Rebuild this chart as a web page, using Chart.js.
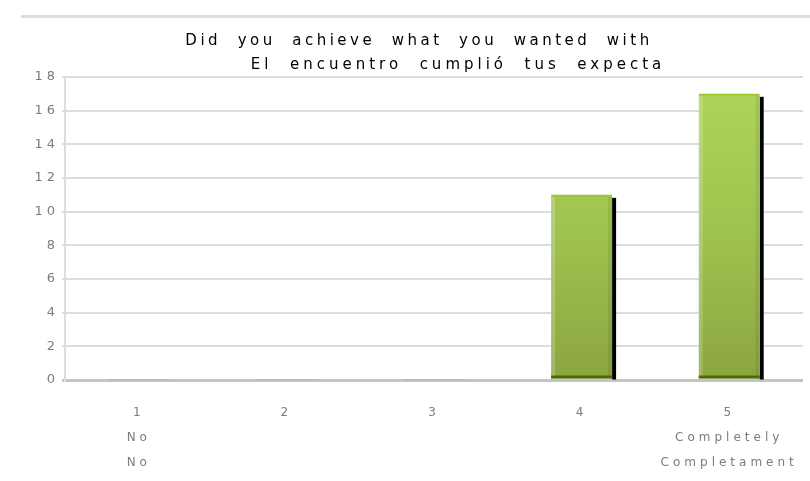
<!DOCTYPE html>
<html>
<head>
<meta charset="utf-8">
<script src="https://cdn.jsdelivr.net/npm/chart.js@4/dist/chart.umd.min.js"></script>
<style>
  html, body { margin: 0; padding: 0; background: #fff; }
  #wrap { width: 810px; height: 481px; position: relative; }
</style>
</head>
<body>
<div id="wrap"><canvas id="chart"></canvas></div>
<script>
const categories = ["1", "2", "3", "4", "5"];
const subLabelsEn = ["No", "", "", "", "Completely"];
const subLabelsEs = ["No", "", "", "", "Completament"];
const counts = [0, 0, 0, 11, 17];
const titleLines = [
  "Did  you  achieve  what  you  wanted  with",
  "El  encuentro  cumplió  tus  expecta",
];

const labels = categories.map((c, i) =>
  [c, subLabelsEn[i], subLabelsEs[i]].filter((s) => s !== "")
);

// letter spacing is reset whenever the canvas is resized, so set it each pass
const spacingPlugin = {
  id: "spacing",
  beforeUpdate(chart) { chart.ctx.letterSpacing = "4px"; },
  beforeDraw(chart) { chart.ctx.letterSpacing = "4px"; },
};

const framePlugin = {
  id: "frame",
  beforeDraw(chart) {
    const ctx = chart.ctx;
    ctx.save();
    ctx.fillStyle = "#dedede";
    ctx.fillRect(21, 15, chart.width - 21, 3);
    ctx.restore();
  },
  afterDraw(chart) {
    const ctx = chart.ctx;
    ctx.save();
    ctx.font = '15px "DejaVu Sans"';
    ctx.fillStyle = "#000";
    ctx.textAlign = "center";
    ctx.letterSpacing = "3.5px";
    ctx.fillText(titleLines[0], 419, 45);
    ctx.letterSpacing = "4px";
    ctx.fillText(titleLines[1], 458, 69);
    ctx.restore();
  },
};

// black drop edge on the right of each bar, plus light/dark edges on the bar
const barDecor = {
  id: "barDecor",
  beforeDatasetsDraw(chart) {
    const ctx = chart.ctx;
    ctx.save();
    ctx.fillStyle = "#000";
    chart.getDatasetMeta(0).data.forEach((bar) => {
      const h = bar.base - bar.y;
      if (h <= 0) return;
      ctx.fillRect(bar.x + bar.width / 2, bar.y + 3, 4, h - 2);
    });
    ctx.restore();
  },
  afterDatasetsDraw(chart) {
    const ctx = chart.ctx;
    ctx.save();
    chart.getDatasetMeta(0).data.forEach((bar) => {
      const h = bar.base - bar.y;
      if (h <= 0) return;
      const left = bar.x - bar.width / 2;
      ctx.fillStyle = "rgba(255,255,255,0.2)";
      ctx.fillRect(left, bar.y + 2, 4, h - 2);
      ctx.fillStyle = "rgba(0,0,0,0.07)";
      ctx.fillRect(left + bar.width - 4, bar.y + 2, 4, h - 2);
      ctx.fillStyle = "#506b02";
      ctx.fillRect(left, bar.base - 3, bar.width, 3);
    });
    ctx.restore();
  },
};

const el = document.getElementById("chart");
new Chart(el.getContext("2d"), {
  type: "bar",
  data: {
    labels: labels,
    datasets: [
      {
        data: counts,
        barThickness: 61,
        backgroundColor: (c) => {
          const area = c.chart.chartArea;
          if (!area) return "#9cbf4c";
          const g = c.chart.ctx.createLinearGradient(0, area.top, 0, area.bottom);
          g.addColorStop(0, "#b0d55a");
          g.addColorStop(0.5, "#a0c34f");
          g.addColorStop(1, "#8ba540");
          return g;
        },
        borderColor: "#9bc632",
        borderWidth: (c) =>
          c.raw > 0 ? { top: 2, left: 0, right: 0, bottom: 0 } : 0,
        borderSkipped: false,
      },
    ],
  },
  options: {
    responsive: true,
    maintainAspectRatio: false,
    animation: false,
    layout: { padding: { left: 0, right: 7, top: 77, bottom: 0 } },
    plugins: {
      legend: { display: false },
      title: { display: false },
      tooltip: { enabled: false },
    },
    scales: {
      x: {
        grid: { display: false, drawTicks: false },
        border: { display: false },
        ticks: {
          color: "#7c7c7c",
          font: { family: "DejaVu Sans", size: 12, lineHeight: 2.1 },
          padding: 20,
          maxRotation: 0,
          autoSkip: false,
        },
        afterFit: (scale) => {
          scale.height = 101;
          scale.paddingLeft = 0;
          scale.paddingRight = 0;
        },
      },
      y: {
        min: 0,
        max: 18,
        ticks: {
          stepSize: 2,
          color: "#7c7c7c",
          font: { family: "DejaVu Sans", size: 13 },
          padding: 3,
        },
        grid: {
          color: (c) => (c.tick && c.tick.value === 0 ? "#c4c4c4" : "#dcdcdc"),
          lineWidth: (c) => (c.tick && c.tick.value === 0 ? 3 : 2),
          tickLength: 3,
        },
        border: { color: "#dcdcdc", width: 2 },
        afterFit: (scale) => {
          scale.width = 65;
          scale.paddingTop = 0;
          scale.paddingBottom = 0;
        },
      },
    },
  },
  plugins: [spacingPlugin, framePlugin, barDecor],
});
</script>
</body>
</html>
